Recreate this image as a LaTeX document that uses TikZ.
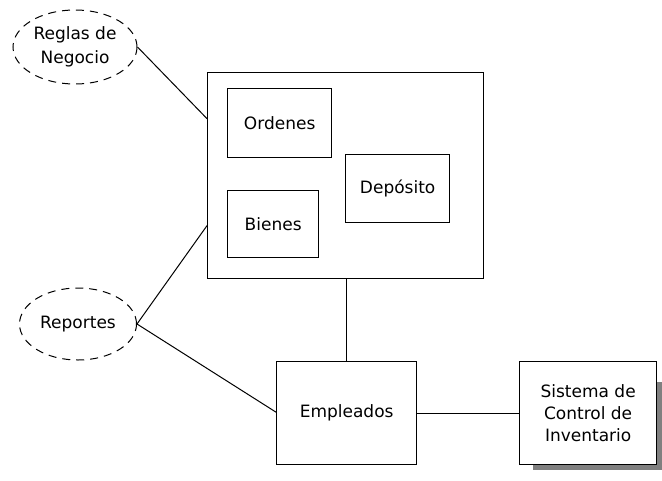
\documentclass[tikz,border=0pt]{standalone}
\usepackage{fontspec}
\setmainfont{DejaVu Sans}
\usetikzlibrary{shapes.geometric,patterns,calc}
\begin{document}
\begin{tikzpicture}[x=1pt,y=-1pt,
  font=\fontsize{17}{22}\selectfont,
  box/.style={draw, line width=1.3pt, inner sep=0pt, anchor=north west},
  cloud/.style={draw, ellipse, dashed, dash pattern=on 8pt off 6pt, line width=1pt, inner sep=0pt, align=center},
  conn/.style={line width=1pt}]
\useasboundingbox (0,0) rectangle (662,480);
% shadow
\fill[black!50] (533,382) rectangle (662,470);
\node[box, fill=white, minimum width=137pt, minimum height=103pt, align=center] (sis) at (519,361) {Sistema de\\Control de\\Inventario};
\node[box, minimum width=276pt, minimum height=206pt] (big) at (207,72) {};
\node[box, minimum width=104pt, minimum height=69pt] (ord) at (227,88) {};
\node at (ord.center) {Ordenes};
\node[box, minimum width=91pt, minimum height=67pt] (bie) at (227,190) {};
\node at (bie.center) {Bienes};
\node[box, minimum width=104pt, minimum height=68pt] (dep) at (345,154) {};
\node at (dep.center) {Depósito};
\node[box, minimum width=140pt, minimum height=103pt] (emp) at (276,361) {};
\node at (emp.center) {Empleados};
\node[cloud, minimum width=124pt, minimum height=74pt, font=\fontsize{17}{24}\selectfont] (reg) at (75,47) {Reglas de\\Negocio};
\node[cloud, minimum width=117pt, minimum height=72pt] (rep) at (78,324) {Reportes};
\draw[conn] (reg.east) -- ([yshift=57pt]big.west);
\draw[conn] (rep.east) -- ([yshift=-50pt]big.west);
\draw[conn] (rep.east) -- ([yshift=1pt]emp.west);
\draw[conn] (big.south -| 346,0) -- (emp.north -| 346,0);
\draw[conn] (emp.east) -- (sis.west);
\end{tikzpicture}
\end{document}
